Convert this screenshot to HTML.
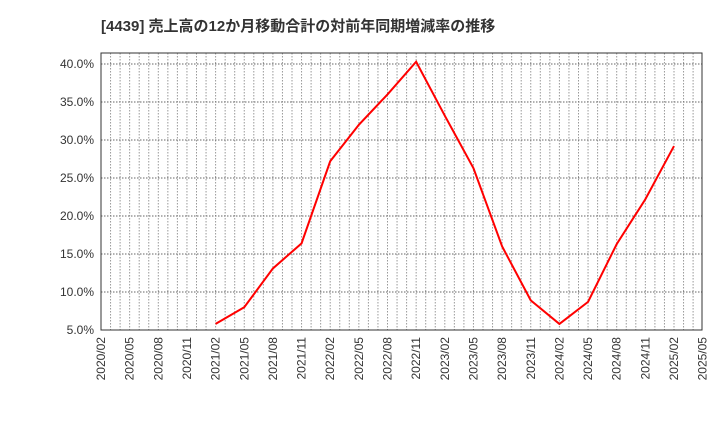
<!DOCTYPE html>
<html><head><meta charset="utf-8"><style>
body{margin:0;background:#fff;font-family:"Liberation Sans","Noto Sans CJK JP",sans-serif}
</style></head><body>
<svg width="720" height="440" xmlns="http://www.w3.org/2000/svg">
<text x="101" y="31" font-size="15" font-weight="bold" fill="#333">[4439]  売上高の12か月移動合計の対前年同期増減率の推移</text>
<g id="grid"></g>
<g id="yt"></g>
<g id="xt"></g>
<rect x="101" y="53" width="601" height="277" fill="none" stroke="#333" stroke-width="1"/>
<polyline id="line" fill="none" stroke="#f00" stroke-width="2"/>
</svg>
<script>
const xLabels=["2020/02","2020/05","2020/08","2020/11","2021/02","2021/05","2021/08","2021/11","2022/02","2022/05","2022/08","2022/11","2023/02","2023/05","2023/08","2023/11","2024/02","2024/05","2024/08","2024/11","2025/02","2025/05"];
const yTicks=[5,10,15,20,25,30,35,40];
const dates=["2021/02","2021/05","2021/08","2021/11","2022/02","2022/05","2022/08","2022/11","2023/02","2023/05","2023/08","2023/11","2024/02","2024/05","2024/08","2024/11","2025/02"];
const values=[5.8,8.0,13.1,16.4,27.2,32.0,36.0,40.3,33.2,26.3,16.0,8.9,5.8,8.7,16.3,22.2,29.2];
const NS="http://www.w3.org/2000/svg";
function mIdx(d){const [y,m]=d.split('/').map(Number);return (y-2020)*12+(m-2);}
function X(d){return 101+mIdx(d)*9.55;}
function Y(v){return 330-(v-5)*7.6;}
const grid=document.getElementById('grid'),yt=document.getElementById('yt'),xt=document.getElementById('xt');
function mk(t,a,p){const e=document.createElementNS(NS,t);for(const k in a)e.setAttribute(k,a[k]);p.appendChild(e);return e;}
for(let m=1;m<63;m++){const x=101+m*9.55;const l=mk('line',{x1:x,x2:x,y1:53,y2:330,stroke:'#999','stroke-dasharray':'1.5,1.5'},grid);

}
yTicks.forEach(v=>{const y=Y(v);const l=mk('line',{x1:101,x2:702,y1:y,y2:y,stroke:'#666','stroke-dasharray':'1.5,1.5'},grid);


const t=mk('text',{x:94,y:y+4,'text-anchor':'end','font-size':12,fill:'#333'},yt);t.textContent=v.toFixed(1)+'%';

});
xLabels.forEach(d=>{const x=X(d);const t=mk('text',{x:0,y:0,'text-anchor':'end','font-size':12,fill:'#333',transform:`translate(${x+4},337) rotate(-90)`},xt);t.textContent=d;

});
document.getElementById('line').setAttribute('points',dates.map((d,i)=>X(d)+','+Y(values[i])).join(' '));
</script>
</body></html>
